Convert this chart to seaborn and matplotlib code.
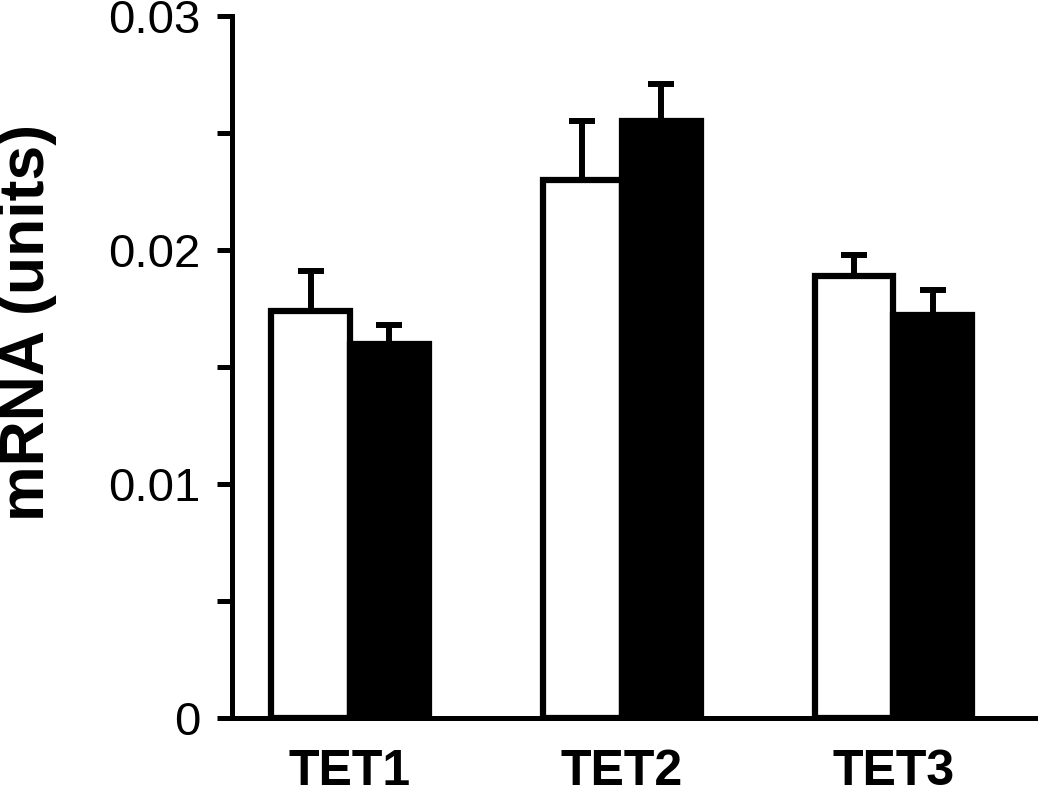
import matplotlib
matplotlib.use("Agg")
import matplotlib.pyplot as plt
import seaborn as sns
import pandas as pd
from matplotlib.ticker import MultipleLocator

sns.set_theme(style="ticks")
plt.rcParams["font.family"] = ["Liberation Sans", "DejaVu Sans"]
plt.rcParams.update({"text.color": "black", "axes.labelcolor": "black",
                     "xtick.color": "black", "ytick.color": "black"})

# values
genes = ["TET1", "TET2", "TET3"]
groups = ["control", "treated"]
control_mean = [0.0174, 0.0230, 0.0189]
treated_mean = [0.0160, 0.0255, 0.0172]
control_err = [0.0017, 0.0025, 0.0009]
treated_err = [0.0008, 0.0016, 0.0011]

df = pd.DataFrame({
    "gene": genes * 2,
    "group": [groups[0]] * 3 + [groups[1]] * 3,
    "mrna": control_mean + treated_mean,
})
errs = control_err + treated_err

fig = plt.figure(figsize=(10.5, 7.96), dpi=100)
ax = fig.add_axes([0.221, 0.098, 0.765, 0.882])

sns.barplot(data=df, x="gene", y="mrna", hue="group", order=genes,
            hue_order=groups, palette=["white", "black"], width=0.58,
            edgecolor="black", linewidth=4.5, errorbar=None, legend=False,
            ax=ax)

# upward-only error bars at the centre of each bar
patches = [p for p in ax.patches if p.get_height() > 0]
xs = [p.get_x() + p.get_width() / 2 for p in patches]
hs = [p.get_height() for p in patches]
# patches come in hue order: all control bars then all treated bars
ax.errorbar(xs, hs, yerr=[[0] * len(errs), errs], fmt="none", ecolor="black",
            elinewidth=4.3, capsize=9.5, capthick=4.3, zorder=1)

ax.set_ylim(0, 0.03)
ax.set_xlim(-0.434, 2.522)
ax.yaxis.set_minor_locator(MultipleLocator(0.005))
ax.set_yticks([0, 0.01, 0.02, 0.03])
ax.set_yticklabels(["0", "0.01", "0.02", "0.03"])
ax.tick_params(axis="y", which="both", direction="out", length=11, width=3.6,
               labelsize=34, pad=12)
ax.tick_params(axis="x", length=0, labelsize=36, pad=22)
for lbl in ax.get_xticklabels():
    lbl.set_fontweight("bold")

ax.set_xlabel("")
ax.set_ylabel("mRNA (units)", fontsize=45, fontweight="bold")
ax.yaxis.set_label_coords(-0.218, 0.564)

sns.despine(ax=ax)
for side in ["left", "bottom"]:
    ax.spines[side].set_linewidth(3.6)
    ax.spines[side].set_color("black")

fig.savefig("out.png", dpi=100)
